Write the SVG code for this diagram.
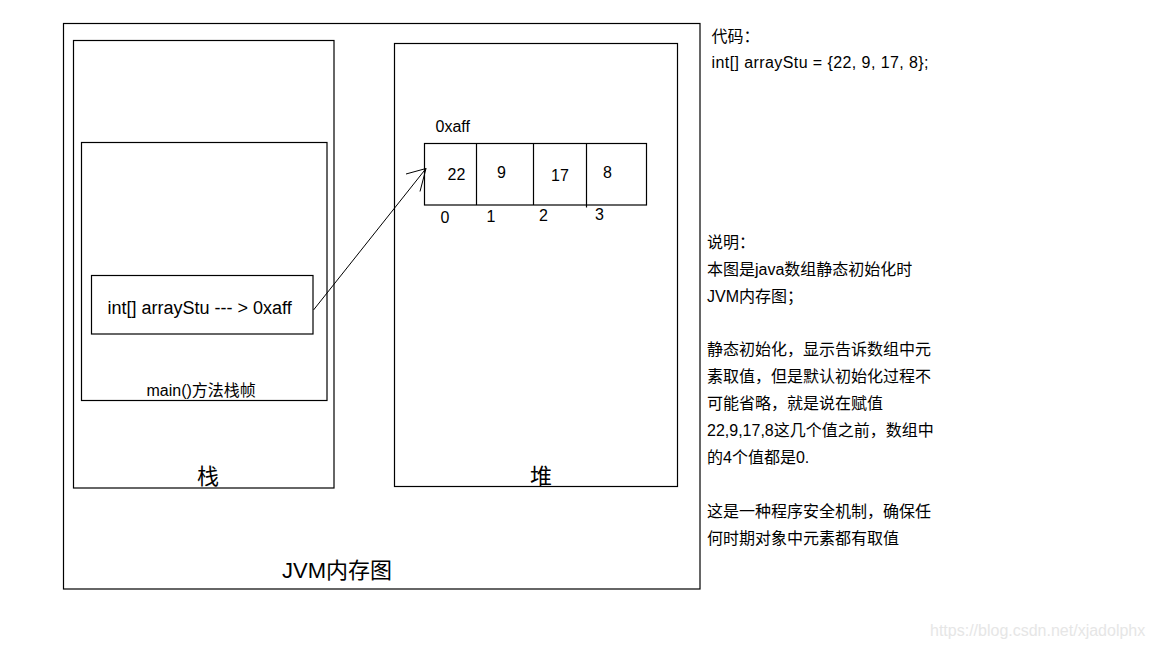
<svg xmlns="http://www.w3.org/2000/svg" width="1152" height="648" viewBox="0 0 1152 648">
<style>
  .box { fill: none; stroke: #000; stroke-width: 1.2; }
  .t { font-family: "Liberation Sans", "Noto Sans CJK SC", sans-serif; fill: #000; }
  .s16 { font-size: 16px; }
  .s18 { font-size: 18px; }
  .s22 { font-size: 22px; }
  .conn { fill: none; stroke: #000; stroke-width: 1; }
  .wm { font-family: "Liberation Sans", sans-serif; font-size: 16px; fill: #e6e6e6; }
</style>
<rect width="1152" height="648" fill="#fff"/>

<g id="jvm">
  <rect class="box" x="63.5" y="23.5" width="636.5" height="565.5"/>
  <text class="t s22" x="282" y="578">JVM内存图</text>
</g>

<g id="stack">
  <rect class="box" x="73.5" y="40.5" width="260.5" height="447.5"/>
  <text class="t s22" x="197" y="484">栈</text>
</g>

<g id="main-frame">
  <rect class="box" x="81.5" y="142.5" width="245.5" height="258"/>
  <text class="t s16" x="146.5" y="396">main()方法栈帧</text>
</g>

<g id="var-arrayStu">
  <rect class="box" x="91.5" y="275.5" width="221.5" height="58.5"/>
  <text class="t s18" x="107.5" y="314">int[] arrayStu --- &gt; 0xaff</text>
</g>

<g id="heap">
  <rect class="box" x="394.5" y="43.5" width="283" height="443"/>
  <text class="t s22" x="530" y="484">堆</text>
</g>

<g id="array">
  <text class="t s16" x="435.5" y="132">0xaff</text>
  <rect class="box" x="424.5" y="143.5" width="222" height="61.5"/>
  <line class="box" x1="476.5" y1="143.5" x2="476.5" y2="205"/>
  <line class="box" x1="533.5" y1="143.5" x2="533.5" y2="205"/>
  <line class="box" x1="586.5" y1="143.5" x2="586.5" y2="207.5"/>
  <text class="t s16" x="447.5" y="180">22</text>
  <text class="t s16" x="497" y="177.5">9</text>
  <text class="t s16" x="551" y="181">17</text>
  <text class="t s16" x="603" y="178">8</text>
  <text class="t s16" x="440.5" y="223">0</text>
  <text class="t s16" x="486.5" y="222">1</text>
  <text class="t s16" x="539" y="221">2</text>
  <text class="t s16" x="595" y="220">3</text>
</g>

<g id="connectors">
  <line class="conn" x1="313.5" y1="310" x2="426" y2="168.5"/>
  <line class="conn" x1="426" y1="168.5" x2="406" y2="174"/>
  <line class="conn" x1="426" y1="168.5" x2="420" y2="191.5"/>
</g>

<g id="code-note">
  <text class="t s16" x="711.5" y="42">代码：</text>
  <text class="t s16" x="711.5" y="68" textLength="217" lengthAdjust="spacing">int[] arrayStu = {22, 9, 17, 8};</text>
</g>

<g id="explain-note">
  <text class="t s16" x="707">
    <tspan x="707" y="248">说明：</tspan>
    <tspan x="707" y="275">本图是java数组静态初始化时</tspan>
    <tspan x="707" y="301.5">JVM内存图；</tspan>
    <tspan x="707" y="355">静态初始化，显示告诉数组中元</tspan>
    <tspan x="707" y="382">素取值，但是默认初始化过程不</tspan>
    <tspan x="707" y="409">可能省略，就是说在赋值</tspan>
    <tspan x="707" y="436">22,9,17,8这几个值之前，数组中</tspan>
    <tspan x="707" y="463">的4个值都是0.</tspan>
    <tspan x="707" y="517">这是一种程序安全机制，确保任</tspan>
    <tspan x="707" y="544">何时期对象中元素都有取值</tspan>
  </text>
</g>

<text class="wm" x="930" y="636">https://blog.csdn.net/xjadolphx</text>
</svg>
